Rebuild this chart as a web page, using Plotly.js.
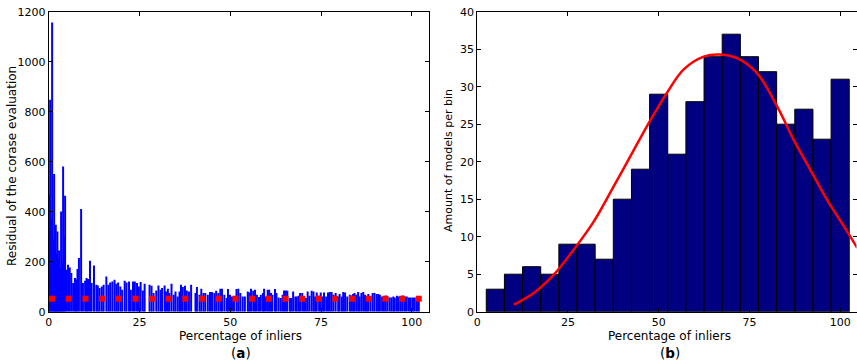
<!DOCTYPE html>
<html>
<head>
<meta charset="utf-8">
<script src="https://cdn.plot.ly/plotly-3.0.1.min.js"></script>
<style>html,body{margin:0;padding:0;background:#fff;}#chart{width:857px;height:362px;}</style>
</head>
<body>
<div id="chart"></div>
<script>
// ---- Panel (a): residual per model vs percentage of inliers ----
const stemX = [0.1,0.37,0.6,0.92,1.2,1.47,1.7,1.92,2.15,2.38,2.6,2.84,3.1,3.39,3.65,3.94,4.2,4.49,4.85,5.3,5.77,6.2,6.7,7.2,7.5,7.9,8.3,8.9,9.4,10.0,10.4,10.8,11.35,11.8,12.45,13.1,13.5,14.0,14.6,15.1,15.85,16.4,16.9,17.5,18.1,18.6,19.1,19.7,20.2,20.9,21.4,22.1,22.6,23.2,23.7,24.3,24.8,
25.3,25.9,26.4,27.75,28.3,28.85,29.6,30.2,30.8,31.2,31.9,32.3,32.8,33.2,33.8,34.4,34.9,35.5,36.0,36.4,36.9,37.5,38.0,38.6,39.2,40.4,40.8,41.5,42.0,42.6,43.1,43.8,44.4,44.96,45.6,46.1,46.7,47.25,47.7,48.35,49.0,49.35,49.9,50.45,51.0,51.7,52.2,
52.75,53.4,54.0,54.8,55.2,55.7,56.3,56.8,57.3,57.9,58.4,59.0,59.3,59.8,60.3,60.7,61.2,61.6,62.3,62.7,63.3,63.9,64.4,64.8,65.3,65.7,66.4,66.8,67.3,67.9,68.3,68.8,69.2,69.8,70.3,70.8,71.3,71.8,72.4,72.9,73.35,73.8,74.45,74.9,75.4,75.8,76.4,76.9,77.4,77.9,78.4,
79.0,79.7,80.1,80.7,81.1,81.6,82.2,82.9,83.3,83.8,84.2,84.7,85.2,85.6,86.1,86.6,87.1,87.6,88.0,88.6,89.2,89.7,90.3,90.7,91.2,91.8,92.3,92.8,93.3,93.9,94.4,94.9,95.3,95.9,96.4,96.97,97.5,98.1,98.6,99.2,99.7,100.3,100.8,101.4,101.9];
const stemY = [468,848,370,1157,290,551,270,348,230,321,210,245,175,401,200,581,301,464,168,188,177,155,115,135,130,171,215,411,115,124,135,131,204,115,185,108,105,95,101,108,141,108,117,121,128,112,117,101,88,124,117,121,88,121,121,115,101,
119,85,112,108,104,75,85,105,88,95,105,81,92,75,112,68,81,61,81,108,99,104,85,81,108,75,99,68,92,75,75,68,79,79,75,84,75,92,92,68,55,91,68,61,61,91,92,
75,61,61,81,77,92,84,88,68,59,68,75,92,61,88,88,75,68,91,75,57,55,68,85,85,84,55,55,81,61,61,64,75,75,61,55,81,64,84,81,61,77,64,77,61,77,61,77,79,79,68,
75,61,71,61,79,77,61,68,65,71,75,68,79,61,75,79,68,61,71,61,75,75,71,71,68,61,61,65,61,57,57,61,57,64,61,59,65,61,61,57,57,57,57,57,57];
const markX = [0.9,5.5,10.1,14.7,19.3,23.9,28.4,33.0,37.6,42.2,46.8,51.4,56.0,60.6,65.2,69.8,74.3,78.9,83.5,88.1,92.7,97.3,101.9];
const markY = [52,52,52,52,52,52,52,52,52,52,52,52,52,52,52,52,52,52,52,52,52,52,52];

// ---- Panel (b): histogram of models per bin + fitted curve ----
const binCenters = [5,10,15,20,25,30,35,40,45,50,55,60,65,70,75,80,85,90,95,100];
const binCounts  = [3,5,6,5,9,9,7,15,19,29,21,28,34,37,34,32,25,27,23,31];
const curveX = [10.1,15.6,21.1,26.6,32.1,37.6,43.2,47.8,52.3,56.9,62.4,66.6,71.6,77.1,82.6,87.2,91.8,96.4,101.0,104.7];
const curveY = [0.93,2.49,4.93,8.27,12.0,16.7,21.6,25.6,29.2,32.3,34.0,34.3,33.8,31.8,27.4,22.9,18.9,14.9,11.4,8.5];

const xTicks = [0,25,50,75,100];
const W = 857, H = 362;
const px = v => v / W;
const py = v => 1 - v / H;

const traces = [
  {type:'bar', x: stemX, y: stemY, width: 0.55, marker:{color:'#0000ff', line:{width:0}}, xaxis:'x', yaxis:'y', hoverinfo:'skip'},
  {type:'scatter', mode:'markers', x: markX, y: markY, marker:{symbol:'square', size:6, color:'#ff0000', line:{width:0}}, xaxis:'x', yaxis:'y', cliponaxis:false},
  {type:'bar', x: binCenters, y: binCounts, width: 5, marker:{color:'#000080', line:{color:'#000000', width:1}}, xaxis:'x2', yaxis:'y2'},
  {type:'scatter', mode:'lines', x: curveX, y: curveY, line:{color:'#ff0000', width:2.5, shape:'spline'}, xaxis:'x2', yaxis:'y2'}
];

const axCommon = {ticks:'inside', ticklen:4, tickwidth:1, tickcolor:'#000', showline:true, linecolor:'#000', linewidth:1, mirror:'ticks', showgrid:false, zeroline:false, tickfont:{size:11, color:'#000'}, automargin:false};
const yDom = [py(311.7), py(11.7)];

const layout = {
  width: W, height: H,
  margin:{l:0, r:0, t:0, b:0},
  paper_bgcolor:'#fff', plot_bgcolor:'#fff',
  showlegend:false,
  font:{family:'DejaVu Sans', size:11, color:'#000'},
  xaxis: Object.assign({}, axCommon, {domain:[px(48.8), px(429.3)], range:[0,104.8], tickvals:xTicks, anchor:'y'}),
  yaxis: Object.assign({}, axCommon, {domain:yDom, range:[0,1200], tickvals:[0,200,400,600,800,1000,1200], anchor:'x'}),
  xaxis2: Object.assign({}, axCommon, {domain:[px(477.2), px(856.5)], range:[0,104.5], tickvals:xTicks, anchor:'y2'}),
  yaxis2: Object.assign({}, axCommon, {domain:yDom, range:[0,40], tickvals:[0,5,10,15,20,25,30,35,40], anchor:'x2'}),
  annotations:[
    {text:'Residual of the corase evaluation', xref:'paper', yref:'paper', x:px(12), y:py(166), textangle:-90, showarrow:false, xanchor:'center', yanchor:'middle', font:{size:12}},
    {text:'Percentage of inliers', xref:'paper', yref:'paper', x:px(240.5), y:py(336), showarrow:false, xanchor:'center', yanchor:'middle', font:{size:12}},
    {text:'(<b>a</b>)', xref:'paper', yref:'paper', x:px(241), y:py(353), showarrow:false, xanchor:'center', yanchor:'middle', font:{size:13.5}},
    {text:'Amount of models per bin', xref:'paper', yref:'paper', x:px(449), y:py(161), textangle:-90, showarrow:false, xanchor:'center', yanchor:'middle', font:{size:11}},
    {text:'Percentage of inliers', xref:'paper', yref:'paper', x:px(669), y:py(336), showarrow:false, xanchor:'center', yanchor:'middle', font:{size:12}},
    {text:'(<b>b</b>)', xref:'paper', yref:'paper', x:px(670), y:py(353), showarrow:false, xanchor:'center', yanchor:'middle', font:{size:13.5}}
  ]
};

Plotly.newPlot('chart', traces, layout, {staticPlot:true, displayModeBar:false});
</script>
</body>
</html>
